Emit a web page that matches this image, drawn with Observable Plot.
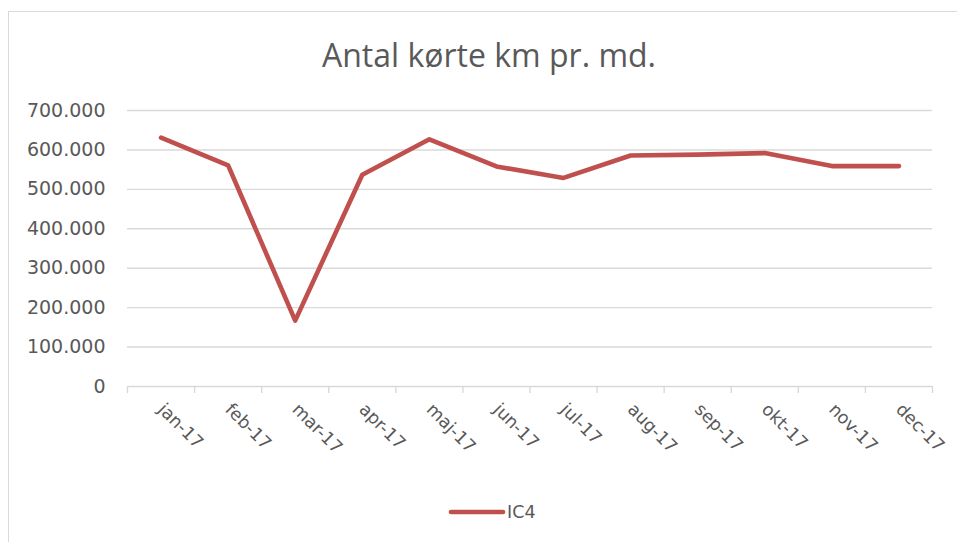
<!DOCTYPE html>
<html>
<head>
<meta charset="utf-8">
<script src="https://cdn.jsdelivr.net/npm/d3@7"></script>
<script src="https://cdn.jsdelivr.net/npm/@observablehq/plot@0.6"></script>
<style>
  html, body { margin: 0; padding: 0; background: #fff; }
  #wrap { position: relative; width: 957px; height: 542px; overflow: hidden; }
  #frame { position: absolute; left: 8px; top: 11px; width: 1000px; height: 600px;
           border-left: 1.5px solid #d9d9d9; border-top: 1.5px solid #d9d9d9; box-sizing: border-box; }
  #title { position: absolute; left: 0; top: 33px; width: 978px; text-align: center;
           font-family: "Open Sans", sans-serif; font-size: 32px; color: #595959; line-height: 44px; }
  #chart { position: absolute; left: 0; top: 90px; }
  #legend { position: absolute; left: 0; top: 498px; width: 957px; }
</style>
</head>
<body>
<div id="wrap">
  <div id="frame"></div>
  <div id="title">Antal kørte km pr. md.</div>
  <div id="chart"></div>
  <div id="legend"></div>
</div>
<script>
const months = ["jan-17","feb-17","mar-17","apr-17","maj-17","jun-17","jul-17","aug-17","sep-17","okt-17","nov-17","dec-17"];
const ic4 = [631000, 561000, 167000, 537000, 627000, 558000, 529000, 586000, 588000, 592000, 559000, 559000];
const yTicks = [0, 100000, 200000, 300000, 400000, 500000, 600000, 700000];
const seriesName = "IC4";
const lineColor = "#c0504d";
const textColor = "#595959";
const gridColor = "#d9d9d9";

const locale = d3.formatLocale({decimal: ",", thousands: ".", grouping: [3], currency: ["", " kr"]});
const fmt = locale.format(",");

const data = months.map((m, i) => ({month: m, idx: i + 0.5, value: ic4[i]}));
const boundaries = d3.range(months.length + 1);

const plot = Plot.plot({
  width: 957,
  height: 390,
  marginLeft: 127,
  marginRight: 25,
  marginTop: 20,
  marginBottom: 94,
  style: {fontFamily: "DejaVu Sans, sans-serif", fontSize: "17.5px", color: textColor, background: "transparent"},
  x: {domain: [0, months.length], axis: null},
  y: {domain: [0, 700000], axis: null},
  marks: [
    Plot.gridY(yTicks.filter(d => d > 0), {stroke: gridColor, strokeOpacity: 1, strokeWidth: 1.4}),
    Plot.ruleY([0], {stroke: gridColor, strokeWidth: 1.4}),
    Plot.axisY({ticks: yTicks, tickFormat: fmt, tickSize: 0, tickPadding: 22, fontSize: 19, fill: textColor, label: null}),
    Plot.axisX({ticks: boundaries, tickFormat: () => "", tickSize: 7, stroke: gridColor, strokeWidth: 1.4, label: null}),
    Plot.axisX({ticks: data.map(d => d.idx), tickFormat: (d) => months[Math.floor(d)], tickSize: 0, tickPadding: 20, tickRotate: 45, fontSize: 17.5, fill: textColor, label: null}),
    Plot.line(data, {x: "idx", y: "value", stroke: lineColor, strokeWidth: 4.6, strokeLinecap: "round", strokeLinejoin: "round"})
  ]
});
document.getElementById("chart").appendChild(plot);

// Legend
const lg = d3.select("#legend").append("svg").attr("width", 957).attr("height", 30);
const g = lg.append("g").attr("transform", "translate(449,14)");
g.append("line").attr("x1", 2).attr("x2", 54).attr("y1", 0).attr("y2", 0)
  .attr("stroke", lineColor).attr("stroke-width", 4.6).attr("stroke-linecap", "round");
g.append("text").attr("x", 58).attr("y", 0).attr("dy", "0.35em")
  .attr("font-family", "DejaVu Sans, sans-serif").attr("font-size", 17.5).attr("fill", textColor)
  .text(seriesName);
</script>
</body>
</html>
